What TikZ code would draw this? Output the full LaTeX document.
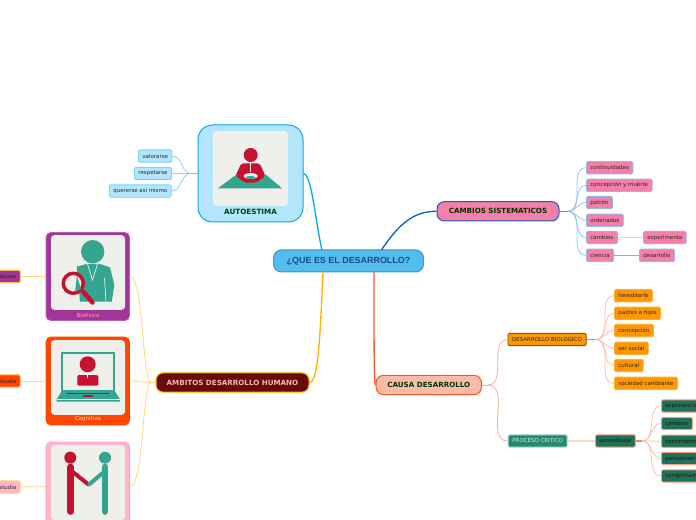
\documentclass[tikz,border=0pt]{standalone}
\usepackage{fontspec}
\setmainfont{DejaVu Sans}
\newfontfamily\rootfont{Liberation Sans}
\usepackage{tikz}

\definecolor{rootblue}{HTML}{52BDEE}
\definecolor{rootink}{HTML}{1B4A8F}
\definecolor{skyline}{HTML}{03A9F4}
\definecolor{skyfill}{HTML}{B3E5FC}
\definecolor{roseline}{HTML}{0D5FD0}
\definecolor{rosefill}{HTML}{F57FA8}
\definecolor{amber}{HTML}{FFB300}
\definecolor{maroon}{HTML}{660A0A}
\definecolor{coral}{HTML}{FF5722}
\definecolor{salmon}{HTML}{FBBBAA}
\definecolor{bioorange}{HTML}{FF9800}
\definecolor{deepgreen}{HTML}{1F7258}
\definecolor{midgreen}{HTML}{268A72}
\definecolor{panelgrey}{HTML}{EFEFEB}
\definecolor{iconred}{HTML}{C4122F}
\definecolor{iconteal}{HTML}{34A58E}
\definecolor{purplecard}{HTML}{A3359A}
\definecolor{orangecard}{HTML}{FF4500}
\definecolor{pinkcard}{HTML}{FFB6CB}

\begin{document}
\begin{tikzpicture}[x=.75pt,y=-.75pt]
    \tikzset{
      topic/.style={draw, line width=.75pt, rounded corners=5.5pt, minimum height=14.5pt,
        inner sep=0pt, font=\fontsize{5.35}{6.4}\selectfont\bfseries},
      leaf/.style={draw, line width=.7pt, rounded corners=1pt, anchor=west, minimum height=9.2pt,
        inner xsep=3pt, inner ysep=0pt, font=\fontsize{4.1}{4.9}\selectfont},
      card/.style={draw, line width=.6pt, rounded corners=3.5pt, inner sep=0pt,
        minimum width=62.5pt, minimum height=66pt},
      panel/.style={fill=panelgrey, rounded corners=2.5pt, inner sep=0pt,
        minimum width=55.5pt, minimum height=56pt},
      stem/.style={line width=1pt},
      twig/.style={line width=.6pt}
    }
    \clip (0,0) rectangle (696,520);

    % Centre
    \node[draw=rootblue!70!black!90, fill=rootblue, line width=.75pt, rounded corners=6pt,
      minimum width=112.5pt, minimum height=16.5pt, inner sep=0pt, text=rootink,
      font=\rootfont\fontsize{6.7}{8}\selectfont\bfseries] (root) at (348.5,261) {¿QUE ES EL DESARROLLO?};
    \coordinate (rootnw) at (322,250);
    \coordinate (rootne) at (381.5,250);
    \coordinate (rootsw) at (323,272);
    \coordinate (rootse) at (374,272);

    % Autoestima
    \node[draw=skyline, fill=skyfill, line width=.75pt, rounded corners=11pt,
      minimum width=78.75pt, minimum height=72.75pt, inner sep=0pt] (autoestima) at (250.5,173.5) {};
    \node[panel, minimum width=56pt] (autopanel) at (250.5,168.5) {};
    \node[text=green!25!black, font=\fontsize{5.4}{6.4}\selectfont\bfseries] (autotitle) at (250.5,212) {AUTOESTIMA};
    \fill[iconteal] (218,188.3) -- (235.7,175) -- (266.3,175) -- (282,188.3) -- cycle;
    \fill[iconred, rounded corners=1.5pt] (235.5,176) -- (241.3,163.3) -- (259.7,163.3) -- (265.5,176)
      -- (256.3,182.7) -- (244.7,182.7) -- cycle;
    \fill[iconred] (250.7,155) circle (7);
    \fill[panelgrey] (250.7,176) ellipse (7 and 3);
    \fill[iconteal] (250.7,177.5) ellipse (5 and 1.5);
    \draw[panelgrey, line width=.4pt] (250.7,163.3) -- (250.7,172);
    \node[leaf, draw=skyfill!70!skyline, fill=skyfill, text=black!85] (valorarse) at (138,156) {valorarse};
    \node[leaf, draw=skyfill!70!skyline, fill=skyfill, text=black!85] (respetarse) at (134,173.5) {respetarse};
    \node[leaf, draw=skyfill!70!skyline, fill=skyfill, text=black!85] (quererse) at (109,191) {quererse asi mismo};
    \coordinate (autohub) at (191,173.5);

    % Cambios sistematicos
    \node[topic, draw=roseline, fill=rosefill, text=green!20!black, minimum width=91.5pt] (cambiossis) at (498,211.3) {CAMBIOS SISTEMATICOS};
    \node[leaf, draw=roseline!45!white, fill=rosefill, text=black!85] (continuidades) at (586,167.8) {continuidades};
    \node[leaf, draw=roseline!45!white, fill=rosefill, text=black!85] (concepcionmuerte) at (586,185.3) {concepción y muerte};
    \node[leaf, draw=roseline!45!white, fill=rosefill, text=black!85] (patron) at (586,202.5) {patrón};
    \node[leaf, draw=roseline!45!white, fill=rosefill, text=black!85] (ordenados) at (586,220.3) {ordenados};
    \node[leaf, draw=roseline!45!white, fill=rosefill, text=black!85] (cambios) at (586,237.5) {cambios};
    \node[leaf, draw=roseline!45!white, fill=rosefill, text=black!85] (ciencia) at (586,255.3) {ciencia};
    \node[leaf, draw=roseline!45!white, fill=rosefill, text=black!85] (experimenta) at (643,237.5) {experimenta};
    \node[leaf, draw=roseline!45!white, fill=rosefill, text=black!85] (desarrollo) at (639,255.3) {desarrollo};
    \coordinate (cambioshub) at (568,211.3);

    % Causa desarrollo
    \node[topic, draw=coral, fill=salmon, text=green!20!black, minimum width=79pt] (causa) at (428.8,385) {CAUSA DESARROLLO};
    \coordinate (causahub) at (488,385);
    \node[leaf, draw=black!45!bioorange, fill=bioorange, text=black!85, inner xsep=3.2pt] (biologico) at (507.5,339.5) {DESARROLLO BIOLOGICO};
    \node[leaf, draw=white!60!iconteal, fill=midgreen, text=white!75!iconteal, inner xsep=3.2pt] (proceso) at (507.7,441) {PROCESO CRITICO};
    \node[leaf, draw=coral!60!white, fill=deepgreen, text=black!90] (aprendizaje) at (595,441) {aprendizaje};
    \coordinate (biohub) at (596,339.5);
    \coordinate (aprendehub) at (642,441);
    \node[leaf, draw=bioorange!80!white, fill=bioorange, text=black!85] (hereditario) at (614,295.8) {hereditario};
    \node[leaf, draw=bioorange!80!white, fill=bioorange, text=black!85] (padres) at (614,313.3) {padres e hijos};
    \node[leaf, draw=bioorange!80!white, fill=bioorange, text=black!85] (concepcion) at (614,330.5) {concepción};
    \node[leaf, draw=bioorange!80!white, fill=bioorange, text=black!85] (sersocial) at (614,348.3) {ser social};
    \node[leaf, draw=bioorange!80!white, fill=bioorange, text=black!85] (cultural) at (614,365.5) {cultural};
    \node[leaf, draw=bioorange!80!white, fill=bioorange, text=black!85] (sociedad) at (614,383.3) {sociedad cambiante};
    \node[leaf, draw=coral!60!white, fill=deepgreen, text=black!90] (experiencia) at (661,406) {experiencia};
    \node[leaf, draw=coral!60!white, fill=deepgreen, text=black!90] (cambioskid) at (661,423.5) {cambios};
    \node[leaf, draw=coral!60!white, fill=deepgreen, text=black!90] (sentimientos) at (661,441.2) {sentimientos};
    \node[leaf, draw=coral!60!white, fill=deepgreen, text=black!90] (pensamientos) at (661,458.5) {pensamientos};
    \node[leaf, draw=coral!60!white, fill=deepgreen, text=black!90] (comportamiento) at (661,476) {comportamiento};

    % Ambitos desarrollo humano
    \node[topic, draw=amber, fill=maroon, text=red!30!white, minimum width=114.75pt] (ambitos) at (232.5,382.5) {AMBITOS DESARROLLO HUMANO};
    \coordinate (ambitoshub) at (151,382.5);

    % Biofisico
    \node[card, draw=purplecard!80!white, fill=purplecard] (biofisico) at (87.8,276.5) {};
    \node[panel] (biopanel) at (88,272.5) {};
    \node[text=red!35!white, font=\fontsize{4.1}{4.9}\selectfont] (biotitle) at (88,315) {Biofísico};
    \fill[iconteal] (76.7,266.7) -- (86.7,264) -- (100,264) -- (110,267.3) -- (114.3,285) -- (111.7,301.7) -- (80,301.7) -- cycle;
    \fill[iconteal] (92.7,251.7) circle (11.7);
    \draw[panelgrey, line width=.5pt] (87.5,264) -- (92.5,280) -- (97.5,264);
    \draw[panelgrey, line width=.5pt] (104.5,278) -- (106,301.7);
    \fill[panelgrey] (73.3,283.3) circle (10);
    \draw[iconred, line width=2.6pt] (73.3,283.3) circle (10);
    \draw[iconred, line width=3.4pt, line cap=round] (83.5,292) -- (92.5,302.5);
    \fill[iconteal] (77,276) -- (75,292) -- (81,289) -- cycle;
    \node[leaf, anchor=east, draw=bioorange!70!white, fill=purplecard, text=black!85] (estudiabio) at (20.7,276.5) {estudia};

    % Cognitivo
    \node[card, draw=orangecard, fill=orangecard] (cognitivo) at (87.8,381) {};
    \node[panel] (cogpanel) at (88,377.5) {};
    \node[text=white!85!orangecard, font=\fontsize{4.1}{4.9}\selectfont] (cogtitle) at (88,419) {Cognitivo};
    \draw[iconteal, line width=1.5pt] (62.2,352.8) rectangle (113.8,391);
    \fill[iconred] (87.7,364.3) circle (8);
    \fill[iconred, rounded corners=1pt] (77.3,385.7) -- (77.3,375) -- (98.3,375) -- (98.3,385.7) -- cycle;
    \draw[panelgrey, line width=.4pt] (87.7,375) -- (87.7,378);
    \fill[iconteal] (61.7,391.5) -- (115,391.5) -- (120,399.3) -- (120,401.7) -- (56.7,401.7) -- (56.7,399.3) -- cycle;
    \draw[panelgrey, line width=.3pt] (56.7,399.5) -- (120,399.5);
    \fill[iconred] (66.7,392.7) rectangle (109.3,394);
    \fill[iconred] (83.3,395) rectangle (92.7,396.5);
    \node[leaf, anchor=east, draw=bioorange!70!white, fill=orangecard, text=black!85] (estudiacog) at (20.7,381) {estudia};

    % Tercera tarjeta
    \node[card, draw=pinkcard!85!purplecard, fill=pinkcard, minimum height=66.75pt] (social) at (87.8,486.5) {};
    \node[panel] (socpanel) at (88,482.5) {};
    \draw[iconred, line width=5pt, line cap=round] (70.3,467) -- (70.3,511.5);
    \draw[iconred, line width=3pt, line cap=round] (72.5,471.7) -- (88.3,484.3);
    \fill[iconred] (70.3,457.7) circle (6);
    \draw[iconteal, line width=5pt, line cap=round] (105,467) -- (105,511.5);
    \draw[iconteal, line width=3pt, line cap=round] (102.7,473) -- (89.3,484.3);
    \fill[iconteal] (105,457.7) circle (6);
    \node[leaf, anchor=east, draw=bioorange!50!white, fill=pinkcard, text=black!85] (estudiasoc) at (20.7,487) {estudia};

    % Branches
    \draw[stem, skyline] (autoestima.east) .. controls (312,175) and (315,220) .. (rootnw);
    \draw[stem, roseline] (rootne) .. controls (400,222) and (415,211.3) .. (cambiossis.west);
    \draw[stem, amber] (rootsw) .. controls (320,340) and (318,382.5) .. (ambitos.east);
    \draw[stem, coral] (rootse) .. controls (374,350) and (374,385) .. (causa.west);

    \draw[stem, skyline!60!white] (autoestima.west) -- (autohub);
    \draw[twig, skyfill!75!skyline] (autohub) to[out=180,in=0] (valorarse.east);
    \draw[twig, skyfill!75!skyline] (autohub) to[out=180,in=0] (respetarse.east);
    \draw[twig, skyfill!75!skyline] (autohub) to[out=180,in=0] (quererse.east);

    \draw[stem, roseline!70!white] (cambiossis.east) -- (cambioshub);
    \draw[twig, roseline!40!white] (cambioshub) to[out=0,in=180] (continuidades.west);
    \draw[twig, roseline!40!white] (cambioshub) to[out=0,in=180] (concepcionmuerte.west);
    \draw[twig, roseline!40!white] (cambioshub) to[out=0,in=180] (patron.west);
    \draw[twig, roseline!40!white] (cambioshub) to[out=0,in=180] (ordenados.west);
    \draw[twig, roseline!40!white] (cambioshub) to[out=0,in=180] (cambios.west);
    \draw[twig, roseline!40!white] (cambioshub) to[out=0,in=180] (ciencia.west);
    \draw[line width=1.4pt, roseline!22!white] (cambios) -- (experimenta);
    \draw[twig, roseline!50!white] (ciencia) -- (desarrollo);

    \draw[twig, coral!50!white] (causa.east) -- (causahub);
    \draw[twig, coral!50!white] (causahub) to[out=0,in=180] (biologico.west);
    \draw[twig, coral!50!white] (causahub) to[out=0,in=180] (proceso.west);
    \draw[stem, coral!75!white] (biologico.east) -- (biohub);
    \draw[twig, coral!40!white] (biohub) to[out=0,in=180] (hereditario.west);
    \draw[twig, coral!40!white] (biohub) to[out=0,in=180] (padres.west);
    \draw[twig, coral!40!white] (biohub) to[out=0,in=180] (concepcion.west);
    \draw[twig, coral!40!white] (biohub) to[out=0,in=180] (sersocial.west);
    \draw[twig, coral!40!white] (biohub) to[out=0,in=180] (cultural.west);
    \draw[twig, coral!40!white] (biohub) to[out=0,in=180] (sociedad.west);
    \draw[line width=1.4pt, coral!25!white] (proceso) -- (aprendizaje);
    \draw[stem, coral!75!white] (aprendizaje.east) -- (aprendehub);
    \draw[twig, coral!40!white] (aprendehub) to[out=0,in=180] (experiencia.west);
    \draw[twig, coral!40!white] (aprendehub) to[out=0,in=180] (cambioskid.west);
    \draw[twig, coral!40!white] (aprendehub) to[out=0,in=180] (sentimientos.west);
    \draw[twig, coral!40!white] (aprendehub) to[out=0,in=180] (pensamientos.west);
    \draw[twig, coral!40!white] (aprendehub) to[out=0,in=180] (comportamiento.west);

    \draw[twig, amber!50!white] (ambitos.west) -- (ambitoshub);
    \draw[twig, amber!50!white] (ambitoshub) .. controls (142,382.5) and (144,276.5) .. (biofisico.east);
    \draw[twig, amber!50!white] (ambitoshub) to[out=180,in=0] (cognitivo.east);
    \draw[twig, amber!50!white] (ambitoshub) .. controls (142,382.5) and (144,487) .. (social.east);
    \draw[twig, amber!50!white] (estudiabio) -- (biofisico);
    \draw[twig, amber!50!white] (estudiacog) -- (cognitivo);
    \draw[twig, amber!50!white] (estudiasoc) -- (social);

  \end{tikzpicture}
\end{document}
